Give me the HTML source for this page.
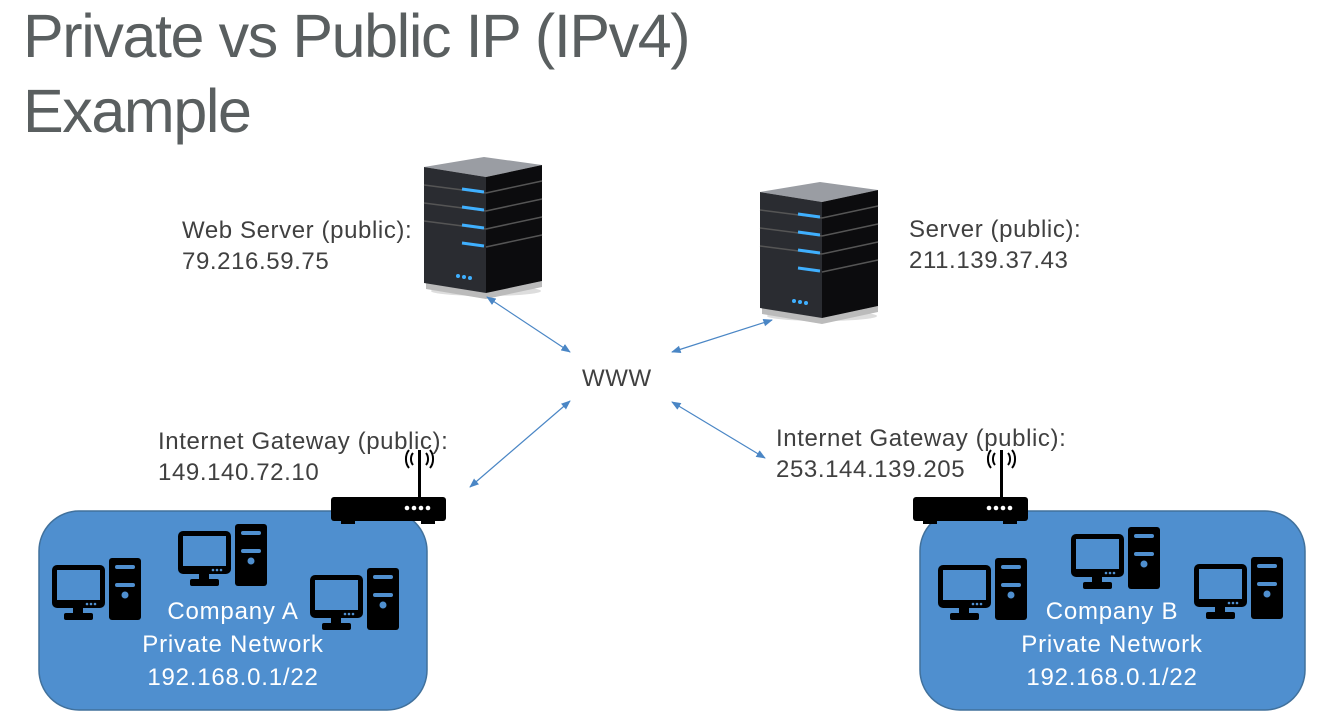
<!DOCTYPE html>
<html><head><style>
body{margin:0;width:1322px;height:727px;background:#fff;overflow:hidden;position:relative;font-family:"Liberation Sans",sans-serif;}
.t{position:absolute;color:#5a5f60;font-size:61px;left:23px;line-height:75px;letter-spacing:-1.4px}
.l{position:absolute;color:#404040;font-size:24px;line-height:31px;letter-spacing:0.6px}
.w{position:absolute;color:#fff;font-size:24px;line-height:33px;text-align:center;letter-spacing:0.8px}
</style></head><body>
<svg width="1322" height="727" style="position:absolute;left:0;top:0">
<defs>
<g id="pc">
<rect x="0" y="7" width="53" height="43" rx="5" fill="#000"/>
<rect x="5" y="12" width="43" height="30" fill="#4f8fcf"/>
<circle cx="35" cy="46" r="1.3" fill="#4f8fcf"/><circle cx="39" cy="46" r="1.3" fill="#4f8fcf"/><circle cx="43" cy="46" r="1.3" fill="#4f8fcf"/>
<rect x="21" y="49" width="10" height="7" fill="#000"/>
<rect x="12" y="55" width="29" height="7" rx="2" fill="#000"/>
<rect x="57" y="0" width="32" height="62" rx="3" fill="#000"/>
<rect x="63" y="7" width="20" height="4" rx="2" fill="#4f8fcf"/>
<rect x="63" y="25" width="20" height="4" rx="2" fill="#4f8fcf"/>
<circle cx="73" cy="37" r="3.5" fill="#4f8fcf"/>
</g>
<g id="rt">
<rect x="0" y="12" width="115" height="24" rx="3" fill="#000"/>
<rect x="10" y="34" width="14" height="5" fill="#000"/>
<rect x="90" y="34" width="14" height="5" fill="#000"/>
<circle cx="76" cy="23" r="2.3" fill="#fff"/><circle cx="83" cy="23" r="2.3" fill="#fff"/><circle cx="90" cy="23" r="2.3" fill="#fff"/><circle cx="97" cy="23" r="2.3" fill="#fff"/>
<rect x="87" y="-35" width="3" height="48" fill="#000"/>
<path d="M82,-32 a6,8 0 0 0 0,12 M78,-35 a9,12 0 0 0 0,18 M95,-32 a6,8 0 0 1 0,12 M99,-35 a9,12 0 0 1 0,18" stroke="#000" stroke-width="2" fill="none"/>
</g>
<g id="sv">
<ellipse cx="62" cy="136" rx="55" ry="5" fill="#ddd"/>
<polygon points="2,128 62,138 118,126 118,132 62,144 2,134" fill="#bbb"/>
<polygon points="0,12 60,2 118,10 62,22" fill="#9a9da3"/>
<polygon points="0,12 62,22 62,138 0,128" fill="#2a2c31"/>
<polygon points="62,22 118,10 118,126 62,138" fill="#0c0c0e"/>
<g stroke="#555" stroke-width="1.5">
<line x1="0" y1="30" x2="62" y2="38"/><line x1="0" y1="48" x2="62" y2="56"/><line x1="0" y1="66" x2="62" y2="74"/>
<line x1="62" y1="38" x2="118" y2="26"/><line x1="62" y1="56" x2="118" y2="44"/><line x1="62" y1="74" x2="118" y2="62"/><line x1="62" y1="92" x2="118" y2="80"/>
</g>
<g stroke="#3fb0ff" stroke-width="3">
<line x1="38" y1="34" x2="60" y2="37"/><line x1="38" y1="52" x2="60" y2="55"/><line x1="38" y1="70" x2="60" y2="73"/><line x1="38" y1="88" x2="60" y2="91"/>
</g>
<circle cx="34" cy="121" r="2" fill="#3fb0ff"/><circle cx="40" cy="122" r="2" fill="#3fb0ff"/><circle cx="46" cy="123" r="2" fill="#3fb0ff"/>
</g>
<marker id="a" viewBox="0 0 10 10" refX="9" refY="5" markerWidth="8" markerHeight="8" orient="auto-start-reverse"><path d="M0,1 L10,5 L0,9 z" fill="#4a86c5"/></marker>
</defs>
<use href="#sv" x="424" y="155"/>
<use href="#sv" x="760" y="180"/>
<g stroke="#4a86c5" stroke-width="1.2" marker-start="url(#a)" marker-end="url(#a)">
<line x1="487" y1="297" x2="570" y2="352"/>
<line x1="672" y1="352" x2="772" y2="320"/>
<line x1="470" y1="487" x2="570" y2="401"/>
<line x1="672" y1="402" x2="765" y2="458"/>
</g>
<rect x="39" y="511" width="388" height="199" rx="40" fill="#4f8fcf" stroke="#41719c" stroke-width="1.5"/>
<rect x="920" y="511" width="385" height="199" rx="40" fill="#4f8fcf" stroke="#41719c" stroke-width="1.5"/>
<use href="#rt" x="331" y="485"/>
<use href="#rt" x="913" y="485"/>
<use href="#pc" x="52" y="558"/>
<use href="#pc" x="178" y="524"/>
<use href="#pc" x="310" y="568"/>
<use href="#pc" x="938" y="558"/>
<use href="#pc" x="1071" y="527"/>
<use href="#pc" x="1194" y="557"/>
</svg>
<div class="t" style="top:-1px">Private vs Public IP (IPv4)</div>
<div class="t" style="top:74px">Example</div>
<div class="l" style="left:182px;top:215px">Web Server (public):<br>79.216.59.75</div>
<div class="l" style="left:909px;top:214px">Server (public):<br>211.139.37.43</div>
<div class="l" style="left:582px;top:363px">WWW</div>
<div class="l" style="left:158px;top:426px">Internet Gateway (public):<br>149.140.72.10</div>
<div class="l" style="left:776px;top:423px">Internet Gateway (public):<br>253.144.139.205</div>
<div class="w" style="left:113px;top:595px;width:240px">Company A<br>Private Network<br>192.168.0.1/22</div>
<div class="w" style="left:992px;top:595px;width:240px">Company B<br>Private Network<br>192.168.0.1/22</div>
</body></html>
